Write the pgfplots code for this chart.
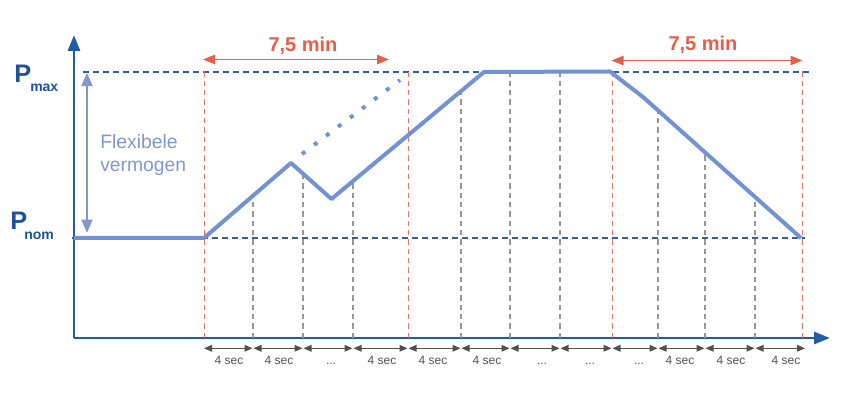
\documentclass[border=0pt]{standalone}
\usepackage{pgfplots}
\pgfplotsset{compat=1.18}
\usepackage{fontspec}
\setmainfont{Liberation Sans}
\usetikzlibrary{arrows.meta}
\definecolor{axisblue}{RGB}{31,94,166}
\definecolor{lblblue}{RGB}{30,82,152}
\definecolor{curveblue}{RGB}{114,146,210}
\definecolor{flexblue}{RGB}{130,150,208}
\definecolor{redann}{RGB}{232,94,72}
\definecolor{redline}{RGB}{236,112,100}
\definecolor{dashblue}{RGB}{46,95,160}
\definecolor{graydash}{RGB}{150,150,150}
\definecolor{secgray}{RGB}{80,80,80}
\begin{document}
\begin{tikzpicture}
\begin{axis}[
  scale only axis, width=567pt, height=227.25pt,
  xmin=74, xmax=830, ymin=0, ymax=303,
  axis lines=left,
  axis line style={draw=axisblue, line width=2.2pt, -{Triangle[length=12pt,width=9pt]}},
  xtick=\empty, ytick=\empty, clip=false,
]
\path (axis cs:0,-60) rectangle (axis cs:857,338);
% reference levels
\addplot[dashblue, line width=0.8pt, dash pattern=on 4.5pt off 3pt] coordinates {(83,266) (811,266)};
\addplot[dashblue, line width=0.8pt, dash pattern=on 4.5pt off 3pt] coordinates {(72,100) (805,100)};
% red verticals
\addplot[redline, line width=0.75pt, dash pattern=on 4pt off 3pt] coordinates {(204,0) (204,270)};
\addplot[redline, line width=0.75pt, dash pattern=on 4pt off 3pt] coordinates {(408,0) (408,266)};
\addplot[redline, line width=0.75pt, dash pattern=on 4pt off 3pt] coordinates {(612.5,0) (612.5,268)};
\addplot[redline, line width=0.75pt, dash pattern=on 4pt off 3pt] coordinates {(802.5,0) (802.5,270)};
% gray verticals
\addplot[graydash, line width=0.8pt, dash pattern=on 4pt off 3pt] coordinates {(253,0) (253,142)};
\addplot[graydash, line width=0.8pt, dash pattern=on 4pt off 3pt] coordinates {(303,0) (303,164)};
\addplot[graydash, line width=0.8pt, dash pattern=on 4pt off 3pt] coordinates {(353,0) (353,157)};
\addplot[graydash, line width=0.8pt, dash pattern=on 4pt off 3pt] coordinates {(461,0) (461,247)};
\addplot[graydash, line width=0.8pt, dash pattern=on 4pt off 3pt] coordinates {(510,0) (510,266)};
\addplot[graydash, line width=0.8pt, dash pattern=on 4pt off 3pt] coordinates {(560,0) (560,266)};
\addplot[graydash, line width=0.8pt, dash pattern=on 4pt off 3pt] coordinates {(658,0) (658,228)};
\addplot[graydash, line width=0.8pt, dash pattern=on 4pt off 3pt] coordinates {(705,0) (705,186)};
\addplot[graydash, line width=0.8pt, dash pattern=on 4pt off 3pt] coordinates {(755,0) (755,141)};
% power curve
\addplot[curveblue, line width=3pt, line join=round] coordinates {
  (74,100) (204,100) (291,175) (331.5,139) (484,266) (610,266.5) (643,241) (801,100)};
\addplot[curveblue, line width=3pt, dash pattern=on 3pt off 8.3pt] coordinates {(302,184) (400,258)};
% 7,5 min arrows
\draw[redann, line width=1.3pt, {Triangle[length=9pt,width=7pt]}-{Triangle[length=9pt,width=7pt]}] (axis cs:203,278.5) -- (axis cs:389,278.5);
\draw[redann, line width=1.3pt, {Triangle[length=9pt,width=7pt]}-{Triangle[length=9pt,width=7pt]}] (axis cs:611.5,277.5) -- (axis cs:802.5,277.5);
\node[redann, font=\fontsize{15}{18}\selectfont\bfseries] at (axis cs:303,292) {7,5 min};
\node[redann, font=\fontsize{15}{18}\selectfont\bfseries] at (axis cs:703,293) {7,5 min};
% P labels
\node[anchor=base west, lblblue, font=\fontsize{19}{22}\selectfont\bfseries, inner sep=0] at (axis cs:14,255) {P};
\node[anchor=base west, lblblue, font=\fontsize{10.5}{12}\selectfont\bfseries, inner sep=0] at (axis cs:30,246) {max};
\node[anchor=base west, lblblue, font=\fontsize{19}{22}\selectfont\bfseries, inner sep=0] at (axis cs:10,108) {P};
\node[anchor=base west, lblblue, font=\fontsize{10.5}{12}\selectfont\bfseries, inner sep=0] at (axis cs:24,98) {nom};
% flexible capacity
\draw[flexblue, line width=2pt, {Triangle[length=10pt,width=8pt]}-{Triangle[length=10pt,width=8pt]}] (axis cs:87,265.3) -- (axis cs:87,105);
\node[anchor=base west, flexblue, font=\fontsize{14.5}{17.5}\selectfont, inner sep=0] at (axis cs:100,189.7) {Flexibele};
\node[anchor=base west, flexblue, font=\fontsize{14.5}{17.5}\selectfont, inner sep=0] at (axis cs:100,166.3) {vermogen};
% time step arrows
\tikzset{secarr/.style={secgray, line width=0.8pt, {Triangle[length=6pt,width=5pt]}-{Triangle[length=6pt,width=5pt]}}}
\draw[secarr] (axis cs:204,-10.3) -- (axis cs:252.5,-10.3);
\draw[secarr] (axis cs:253.5,-10.3) -- (axis cs:302.5,-10.3);
\draw[secarr] (axis cs:303.5,-10.3) -- (axis cs:352.5,-10.3);
\draw[secarr] (axis cs:353.5,-10.3) -- (axis cs:407.5,-10.3);
\draw[secarr] (axis cs:408.5,-10.3) -- (axis cs:460.5,-10.3);
\draw[secarr] (axis cs:461.5,-10.3) -- (axis cs:509.5,-10.3);
\draw[secarr] (axis cs:510.5,-10.3) -- (axis cs:559.5,-10.3);
\draw[secarr] (axis cs:560.5,-10.3) -- (axis cs:611.5,-10.3);
\draw[secarr] (axis cs:612.5,-10.3) -- (axis cs:657.5,-10.3);
\draw[secarr] (axis cs:658.5,-10.3) -- (axis cs:704.5,-10.3);
\draw[secarr] (axis cs:705.5,-10.3) -- (axis cs:754.5,-10.3);
\draw[secarr] (axis cs:755.5,-10.3) -- (axis cs:805,-10.3);
\tikzset{seclbl/.style={secgray, font=\fontsize{9}{10}\selectfont, inner sep=0}}
\node[seclbl] at (axis cs:229,-22) {4 sec};
\node[seclbl] at (axis cs:279,-22) {4 sec};
\node[seclbl] at (axis cs:331,-26) {...};
\node[seclbl] at (axis cs:382,-22) {4 sec};
\node[seclbl] at (axis cs:433,-22) {4 sec};
\node[seclbl] at (axis cs:487,-22) {4 sec};
\node[seclbl] at (axis cs:542,-26) {...};
\node[seclbl] at (axis cs:590,-26) {...};
\node[seclbl] at (axis cs:639,-26) {...};
\node[seclbl] at (axis cs:680,-22) {4 sec};
\node[seclbl] at (axis cs:731,-22) {4 sec};
\node[seclbl] at (axis cs:786,-22) {4 sec};
\end{axis}
\end{tikzpicture}
\end{document}
